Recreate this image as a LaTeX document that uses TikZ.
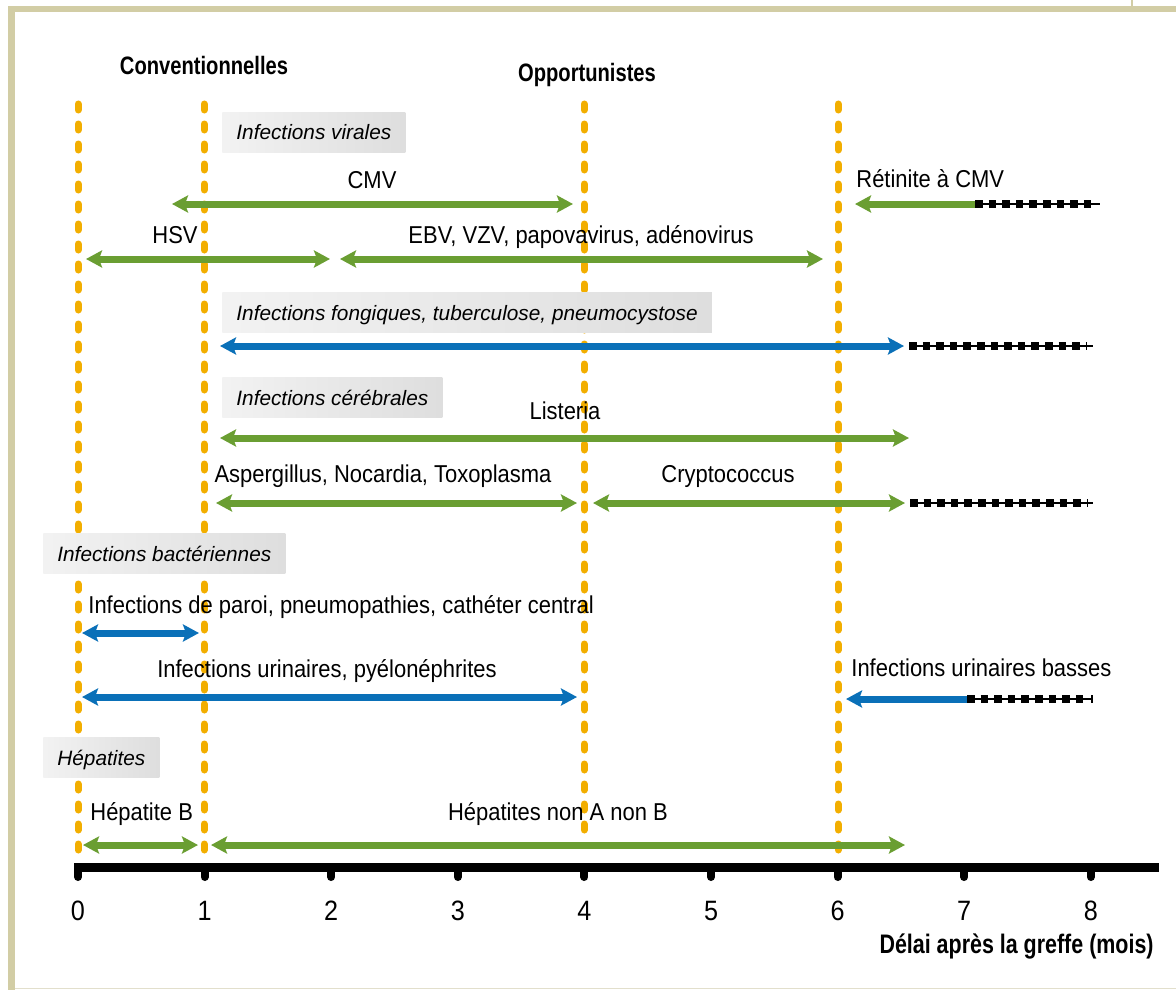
\documentclass[tikz,border=0pt]{standalone}
\usepackage{fontspec}
\setmainfont{Liberation Sans}
\newfontfamily\condfont{Liberation Sans}[FakeStretch=0.9]
\newfontfamily\boldfont{Liberation Sans}[FakeStretch=0.8]
\usetikzlibrary{arrows.meta}
\definecolor{grn}{HTML}{6A9E32}
\definecolor{blu}{HTML}{0A70B8}
\definecolor{org}{HTML}{F2AE00}
\definecolor{beige}{HTML}{D2CDA5}
\definecolor{beigel}{HTML}{E2DFCC}
\tikzset{myhead/.tip={Stealth[length=8pt,width=8.5pt,inset=1.5pt]}}
\begin{document}
\begin{tikzpicture}[x=0.5pt,y=-0.5pt,
  lbl/.style={font=\condfont\fontsize{12.2}{14}\selectfont, anchor=base, inner sep=0pt},
  hdr/.style={font=\boldfont\bfseries\fontsize{12.6}{14}\selectfont, anchor=base, inner sep=0pt},
  cat/.style={font=\itshape\fontsize{10.4}{12}\selectfont, anchor=west, left color=black!5, right color=black!13, inner xsep=7pt, inner ysep=0pt, minimum height=20pt, text height=8pt, text depth=0pt},
  num/.style={font=\condfont\fontsize{14}{16}\selectfont, anchor=base, inner sep=0pt},
  vline/.style={draw=org, line width=3.5pt, line cap=round, dash pattern=on 3pt off 7pt},
  bar/.style={line width=3.5pt, myhead-myhead},
  lbar/.style={line width=3.5pt, myhead-},
  dotthin/.style={draw=black, line width=0.6pt},
  dotsq/.style={draw=black, line width=4.2pt, dash pattern=on 3.8pt off 3pt},
]
\useasboundingbox (0,0) rectangle (1176,990);
\fill[white] (0,0) rectangle (1176,990);
% frame
\fill[beige] (8,6) rectangle (15,990);
\fill[beige] (8,6) rectangle (1176,12);
\draw[beigel, line width=0.6pt] (15,988.5) -- (1176,988.5);
\draw[beige, line width=0.6pt] (1132,0) -- (1132,6);

% vertical dashed lines
\draw[vline] (78,104) -- (78,850);
\draw[vline] (204,104) -- (204,850);
\draw[vline] (584,104) -- (584,830);
\draw[vline] (838,104) -- (838,850);

% headers
\node[hdr] (conv) at (204,75) {Conventionnelles};
\node[hdr] (opp) at (587,82) {Opportunistes};

% category boxes
\node[cat] (cvir) at (222,132) {Infections virales};
\node[cat] (cfon) at (222,312.5) {Infections fongiques, tuberculose, pneumocystose};
\node[cat] (ccer) at (222,397) {Infections cérébrales};
\node[cat] (cbac) at (43,553) {Infections bactériennes};
\node[cat] (chep) at (43,757) {Hépatites};

% viral
\node[lbl] (lcmv) at (372,188) {CMV};
\draw[bar, grn] (172,204) -- (573,204);
\node[lbl, anchor=base west] (lret) at (856,187) {Rétinite à CMV};
\draw[lbar, grn] (855,204) -- (976,204);
\draw[dotthin] (975,204) -- (1100,204);
\draw[dotsq] (975,204) -- (1093,204);
\node[lbl] (lhsv) at (175,243) {HSV};
\draw[bar, grn] (86,259) -- (330,259);
\node[lbl] (lebv) at (581,243) {EBV, VZV, papovavirus, adénovirus};
\draw[bar, grn] (340,259) -- (823,259);

% fungal
\draw[bar, blu] (220,346) -- (904,346);
\draw[dotthin] (909,346) -- (1093,346);
\draw[dotsq] (909,346) -- (1087,346);

% cerebral
\node[lbl] (llis) at (565,419) {Listeria};
\draw[bar, grn] (220,438) -- (909,438);
\node[lbl] (lasp) at (383,482) {Aspergillus, Nocardia, Toxoplasma};
\draw[bar, grn] (216,503) -- (577,503);
\node[lbl] (lcry) at (728,482) {Cryptococcus};
\draw[bar, grn] (593,503) -- (905,503);
\draw[dotthin] (910,503) -- (1093,503);
\draw[dotsq] (910,503) -- (1087,503);

% bacterial
\node[lbl, anchor=base west] (lpar) at (88,613) {Infections de paroi, pneumopathies, cathéter central};
\draw[bar, blu] (82,633) -- (199,633);
\node[lbl] (luri) at (327,677) {Infections urinaires, pyélonéphrites};
\draw[bar, blu] (82,697) -- (577,697);
\node[lbl, anchor=base west] (lbas) at (851,676) {Infections urinaires basses};
\draw[lbar, blu] (846,699) -- (968,699);
\draw[dotthin] (967,699) -- (1092,699);
\draw[dotthin] (1092,695) -- (1092,703);
\draw[dotsq] (967,699) -- (1087,699);

% hepatitis
\node[lbl, anchor=base west] (lhb) at (90,820) {Hépatite B};
\draw[bar, grn] (83,845) -- (198,845);
\node[lbl] (lhnn) at (558,820) {Hépatites non A non B};
\draw[bar, grn] (211,845) -- (905,845);

% axis
\foreach \i in {0,...,8}{
  \draw[line width=4pt, line cap=round] ({78+126.6*\i},867) -- ({78+126.6*\i},877);
  \node[num] (t\i) at ({78+126.6*\i},920) {\i};
}
\draw[line width=4.5pt] (74,867) -- (1159,867);
\node[hdr, anchor=base east, font=\boldfont\bfseries\fontsize{13.4}{15}\selectfont] (axl) at (1154,953) {Délai après la greffe (mois)};
\end{tikzpicture}
\end{document}
